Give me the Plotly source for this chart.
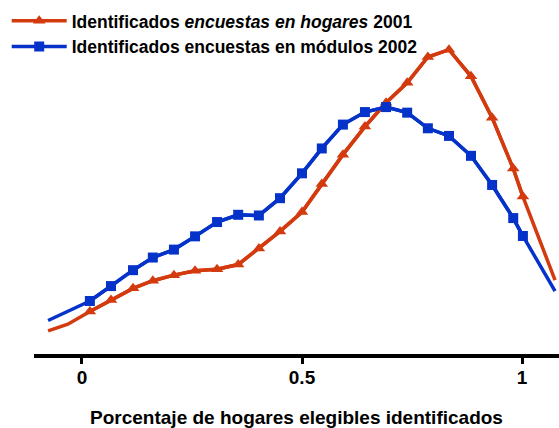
import plotly.graph_objects as go

# x positions of marked points (shared by both series)
x_marked = [0.018, 0.066, 0.116, 0.161, 0.209, 0.257, 0.307, 0.355, 0.402, 0.450, 0.500,
            0.545, 0.593, 0.643, 0.691, 0.739, 0.786, 0.834, 0.884, 0.932, 0.980, 1.002]

red_y = [0.427, 0.543, 0.660, 0.737, 0.793, 0.837, 0.853, 0.900, 1.060, 1.233, 1.427,
         1.710, 2.005, 2.287, 2.527, 2.727, 2.987, 3.060, 2.793, 2.377, 1.865, 1.583]
blue_y = [0.533, 0.683, 0.843, 0.970, 1.050, 1.183, 1.327, 1.400, 1.393, 1.567, 1.817,
          2.067, 2.307, 2.433, 2.483, 2.427, 2.270, 2.193, 1.993, 1.700, 1.367, 1.187]

# unmarked curve ends
red_left_x, red_left_y = [-0.077, -0.032], [0.233, 0.300]
red_right_x, red_right_y = [1.075], [0.743]
blue_left_x, blue_left_y = [-0.077], [0.337]
blue_right_x, blue_right_y = [1.075], [0.633]

tick_vals = [0, 0.5, 1]
tick_text = ["0", "0.5", "1"]

name_red = "Identificados <i>encuestas en hogares</i> 2001"
name_blue = "Identificados encuestas en módulos 2002"
x_title = "Porcentaje de hogares elegibles identificados"

RED = "#D33A0E"
BLUE = "#0533C9"

fig = go.Figure()

# full curves (lines only)
fig.add_trace(go.Scatter(
    x=red_left_x + x_marked + red_right_x, y=red_left_y + red_y + red_right_y,
    mode="lines", line=dict(color=RED, width=3.5), showlegend=False, hoverinfo="skip"))
fig.add_trace(go.Scatter(
    x=blue_left_x + x_marked + blue_right_x, y=blue_left_y + blue_y + blue_right_y,
    mode="lines", line=dict(color=BLUE, width=3.5), showlegend=False, hoverinfo="skip"))

# marked points
fig.add_trace(go.Scatter(
    x=x_marked, y=red_y, mode="lines+markers", name=name_red,
    line=dict(color=RED, width=3.5),
    marker=dict(symbol="triangle-up", size=11, color=RED)))
fig.add_trace(go.Scatter(
    x=x_marked, y=blue_y, mode="lines+markers", name=name_blue,
    line=dict(color=BLUE, width=3.5),
    marker=dict(symbol="square", size=10, color=BLUE)))

fig.update_layout(
    width=559, height=428,
    margin=dict(l=34, r=0, t=0, b=72),
    paper_bgcolor="white", plot_bgcolor="white",
    font=dict(family="Liberation Sans, Arial, sans-serif", color="black"),
    legend=dict(
        x=-0.052, y=0.9916, xanchor="left", yanchor="top",
        bgcolor="rgba(0,0,0,0)",
        font=dict(size=17.5, weight="bold", color="black"),
        itemwidth=55,
    ),
    xaxis=dict(
        range=[-0.109, 1.084],
        tickvals=tick_vals, ticktext=tick_text,
        showgrid=False, zeroline=False,
        showline=True, linecolor="black", linewidth=3.5,
        ticks="outside", ticklen=6, tickwidth=3, tickcolor="black",
        tickfont=dict(size=19, weight="bold"),
        ticklabelstandoff=-3,
        title=dict(text=x_title, font=dict(size=19, weight="bold"), standoff=27),
    ),
    yaxis=dict(range=[0, 3.56], visible=False),
)

fig.write_html(
    "out.html",
    config={"displayModeBar": False},
    post_script="document.body.style.margin='0';document.body.style.overflow='hidden';",
)
